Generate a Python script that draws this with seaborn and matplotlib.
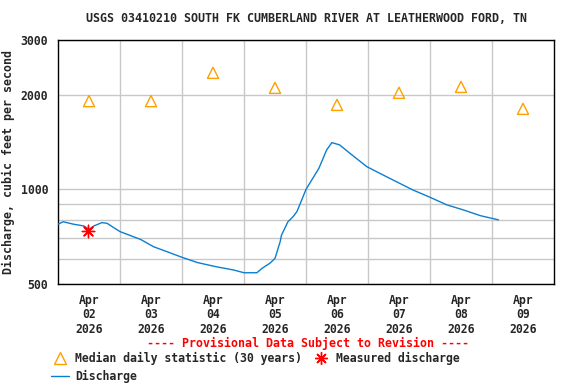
import matplotlib
matplotlib.use("Agg")
import matplotlib.pyplot as plt
from matplotlib.lines import Line2D
from matplotlib.ticker import FixedLocator, NullFormatter, FixedFormatter
import seaborn as sns
import pandas as pd

# ---- data ----
discharge_times = [
    "2026-04-02 00:00", "2026-04-02 02:00", "2026-04-02 06:00", "2026-04-02 10:00",
    "2026-04-02 12:00", "2026-04-02 14:00", "2026-04-02 17:00", "2026-04-02 19:00",
    "2026-04-02 22:00", "2026-04-03 00:00", "2026-04-03 08:00", "2026-04-03 13:00",
    "2026-04-03 19:00", "2026-04-04 00:00", "2026-04-04 06:00", "2026-04-04 13:00",
    "2026-04-04 20:00", "2026-04-05 00:00", "2026-04-05 05:00", "2026-04-05 07:00",
    "2026-04-05 10:00", "2026-04-05 12:00", "2026-04-05 14:00", "2026-04-05 14:30",
    "2026-04-05 17:00", "2026-04-05 19:00", "2026-04-05 20:30", "2026-04-06 00:00",
    "2026-04-06 05:00", "2026-04-06 08:00", "2026-04-06 10:00", "2026-04-06 13:00",
    "2026-04-06 17:00", "2026-04-06 23:30", "2026-04-07 04:30", "2026-04-07 11:00",
    "2026-04-07 17:30", "2026-04-08 00:00", "2026-04-08 06:30", "2026-04-08 13:00",
    "2026-04-08 19:30", "2026-04-09 02:30",
]
discharge_values = [
    775, 789, 775, 765, 747, 766, 784, 780, 752, 734, 693, 657,
    630, 608, 585, 568, 554, 543, 543, 561, 582, 603, 682, 715,
    789, 819, 850, 1000, 1168, 1336, 1409, 1386, 1303, 1182, 1126, 1058,
    995, 944, 893, 860, 825, 800,
]
median_days = ["2026-04-02 12:00", "2026-04-03 12:00", "2026-04-04 12:00", "2026-04-05 12:00",
               "2026-04-06 12:00", "2026-04-07 12:00", "2026-04-08 12:00", "2026-04-09 12:00"]
median_values = [1910, 1910, 2350, 2105, 1858, 2030, 2120, 1805]
measured_times = ["2026-04-02 11:45"]
measured_values = [738]
day_labels = ["Apr\n02\n2026", "Apr\n03\n2026", "Apr\n04\n2026", "Apr\n05\n2026",
              "Apr\n06\n2026", "Apr\n07\n2026", "Apr\n08\n2026", "Apr\n09\n2026"]
y_tick_values = [500, 1000, 2000, 3000]
y_minor_values = [600, 700, 800, 900]

dis = pd.DataFrame({"time": pd.to_datetime(discharge_times), "q": discharge_values})
med = pd.DataFrame({"time": pd.to_datetime(median_days), "q": median_values})
mea = pd.DataFrame({"time": pd.to_datetime(measured_times), "q": measured_values})

sns.set_style("white")
plt.rcParams["font.family"] = ["DejaVu Sans Mono"]
plt.rcParams["font.weight"] = "bold"

fig = plt.figure(figsize=(5.76, 3.84), dpi=100)
ax = fig.add_axes([58/576, 1-284/384, 496/576, 244.5/384])

blue = "#0a7fd2"
orange = "#ffa000"
red = "#ff0000"
grid = "#c8c8c8"

sns.lineplot(data=dis, x="time", y="q", ax=ax, color=blue, linewidth=1.0, zorder=3)
sns.scatterplot(data=med, x="time", y="q", ax=ax, marker="^", s=64,
                facecolor="none", edgecolor=orange, linewidth=1.0, zorder=4)
sns.scatterplot(data=mea, x="time", y="q", ax=ax, marker=(8, 2, 0), s=80,
                color=red, edgecolor=red, linewidth=1.0, zorder=5)

ax.set_yscale("log")
ax.set_ylim(500, 3000)
ax.set_xlim(pd.Timestamp("2026-04-02 00:00"), pd.Timestamp("2026-04-10 00:00"))

ax.yaxis.set_major_locator(FixedLocator(y_tick_values))
ax.yaxis.set_major_formatter(FixedFormatter([str(v) for v in y_tick_values]))
ax.yaxis.set_minor_locator(FixedLocator(y_minor_values))
ax.yaxis.set_minor_formatter(NullFormatter())

noon = pd.to_datetime(median_days)
mids = pd.date_range("2026-04-03", "2026-04-09", freq="D")
ax.set_xticks(noon)
ax.set_xticklabels(day_labels)
ax.set_xticks(mids, minor=True)

ax.grid(False)
ax.grid(True, which="minor", axis="both", color=grid, linewidth=1.0)
ax.grid(True, which="major", axis="y", color=grid, linewidth=1.0)
ax.set_axisbelow(True)

ax.tick_params(which="both", length=0)
ax.tick_params(axis="y", pad=7, labelsize=8.3)
ax.tick_params(axis="x", pad=7, labelsize=8.3)
for lab in ax.get_xticklabels() + ax.get_yticklabels():
    lab.set_fontweight("bold")
    lab.set_linespacing(1.15)

for sp in ax.spines.values():
    sp.set_color("black")
    sp.set_linewidth(1.0)
    sp.set_visible(True)

ax.set_xlabel("")
ax.set_ylabel("Discharge, cubic feet per second", fontsize=8.4, fontweight="bold", labelpad=4)

fig.text(306/576, 1-19/384, "USGS 03410210 SOUTH FK CUMBERLAND RIVER AT LEATHERWOOD FORD, TN",
         ha="center", va="center", fontsize=8.4, fontweight="bold")
fig.text(308/576, 1-343/384, "---- Provisional Data Subject to Revision ----",
         ha="center", va="center", fontsize=8.4, fontweight="bold", color=red)

handles = [
    Line2D([], [], linestyle="none", marker="^", markersize=8, markerfacecolor="none",
           markeredgecolor=orange, markeredgewidth=1.0),
    Line2D([], [], color=blue, linewidth=1.0),
    Line2D([], [], linestyle="none", marker=(8, 2, 0), markersize=9, color=red,
           markeredgewidth=1.0),
]
labels = ["Median daily statistic (30 years)", "Discharge", "Measured discharge"]
fig.legend(handles, labels, ncol=2, loc="upper left", bbox_to_anchor=(51/576, 1-352/384),
           frameon=False, borderpad=0, borderaxespad=0, handlelength=1.55, handletextpad=0.55,
           columnspacing=0.85, labelspacing=0.42, prop={"size": 8.3, "weight": "bold"})

fig.savefig("out.png", dpi=100, facecolor="white")
